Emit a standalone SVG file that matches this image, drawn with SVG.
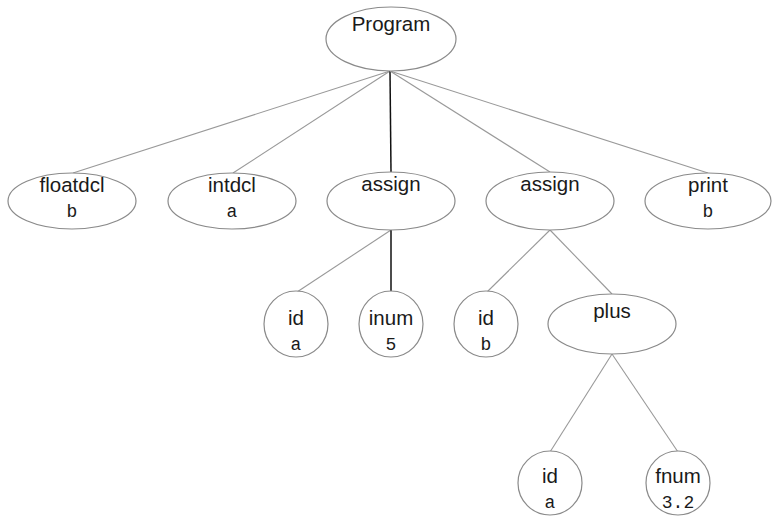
<svg xmlns="http://www.w3.org/2000/svg" width="772" height="516" viewBox="0 0 772 516">
<style>
.n{fill:#fff;stroke:#8a8a8a;stroke-width:1.2}
.t{font-family:"Liberation Sans",Arial,sans-serif;font-size:20.5px;fill:#1a1a1a;text-anchor:middle}
.m{font-family:"Liberation Mono","Courier New",monospace;font-size:18px;fill:#1a1a1a;text-anchor:middle}
.e{stroke:#999;stroke-width:1.1;fill:none}
.k{stroke:#111;stroke-width:1.5;fill:none}
</style>
<rect width="772" height="516" fill="#fff"/>
<g id="connectors">
<line class="e" x1="390" y1="71" x2="73" y2="173"/>
<line class="e" x1="390" y1="71" x2="233" y2="173"/>
<line class="k" x1="390" y1="71" x2="391" y2="172"/>
<line class="e" x1="390" y1="71" x2="550" y2="172"/>
<line class="e" x1="390" y1="71" x2="708" y2="173"/>
<line class="e" x1="391" y1="230" x2="297" y2="292"/>
<line class="k" x1="391" y1="230" x2="391" y2="292"/>
<line class="e" x1="550" y1="230" x2="487" y2="292"/>
<line class="e" x1="550" y1="230" x2="612" y2="294"/>
<line class="e" x1="612" y1="354" x2="550" y2="452"/>
<line class="e" x1="612" y1="354" x2="678" y2="452"/>
</g>
<g id="program"><ellipse class="n" cx="391" cy="39" rx="65" ry="32"/><text class="t" x="391" y="31">Program</text></g>
<g id="floatdcl"><ellipse class="n" cx="72" cy="201" rx="64" ry="28"/><text class="t" x="72" y="192">floatdcl</text><text class="m" x="72" y="217">b</text></g>
<g id="intdcl"><ellipse class="n" cx="232" cy="201" rx="64" ry="28"/><text class="t" x="232" y="192">intdcl</text><text class="m" x="232" y="217">a</text></g>
<g id="assign1"><ellipse class="n" cx="391" cy="201" rx="64" ry="29"/><text class="t" x="391" y="191">assign</text></g>
<g id="assign2"><ellipse class="n" cx="550" cy="201" rx="64" ry="29"/><text class="t" x="550" y="191">assign</text></g>
<g id="print"><ellipse class="n" cx="708" cy="201" rx="63" ry="28"/><text class="t" x="708" y="192">print</text><text class="m" x="708" y="217">b</text></g>
<g id="id_a1"><ellipse class="n" cx="296" cy="324" rx="32" ry="33"/><text class="t" x="296" y="325">id</text><text class="m" x="296" y="350">a</text></g>
<g id="inum"><ellipse class="n" cx="391" cy="324" rx="32" ry="33"/><text class="t" x="391" y="325">inum</text><text class="m" x="391" y="350">5</text></g>
<g id="id_b"><ellipse class="n" cx="486" cy="324" rx="32" ry="33"/><text class="t" x="486" y="325">id</text><text class="m" x="486" y="350">b</text></g>
<g id="plus"><ellipse class="n" cx="612" cy="324" rx="64" ry="30"/><text class="t" x="612" y="318">plus</text></g>
<g id="id_a2"><ellipse class="n" cx="550" cy="483" rx="32" ry="32"/><text class="t" x="550" y="483">id</text><text class="m" x="550" y="508">a</text></g>
<g id="fnum"><ellipse class="n" cx="678" cy="483" rx="32" ry="32"/><text class="t" x="678" y="483">fnum</text><text class="m" x="678" y="508">3.2</text></g>
</svg>
